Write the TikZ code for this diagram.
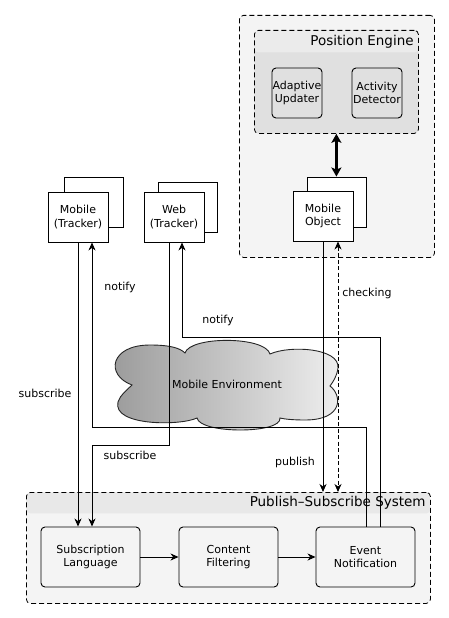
\documentclass[tikz,border=0pt]{standalone}
\usepackage{fontspec}
\setmainfont{DejaVu Sans}
\usetikzlibrary{arrows.meta}
\definecolor{bodyfill}{HTML}{F4F4F4}
\definecolor{hdrfill}{HTML}{E8E8E8}
\definecolor{pebody}{HTML}{E0E0E0}
\definecolor{pehdr}{HTML}{EBEBEB}
\definecolor{cloudL}{HTML}{999999}
\definecolor{cloudR}{HTML}{F0F0F0}
\begin{document}
\begin{tikzpicture}[x=1pt,y=-1pt,
  txt/.style={font=\fontsize{11}{13.5}\selectfont, text=black, inner sep=0pt},
  ttl/.style={font=\fontsize{13.5}{16}\selectfont, text=black, inner sep=0pt},
  container/.style={draw, dash pattern=on 5pt off 3pt, line width=0.8pt, rounded corners=4pt, inner sep=0pt},
  trk/.style={draw, fill=white, line width=0.9pt, minimum width=60pt, minimum height=50pt, inner sep=0pt, align=center, txt},
  trkback/.style={draw, fill=white, line width=0.9pt, minimum width=59pt, minimum height=50pt, inner sep=0pt},
  psb/.style={draw, fill=bodyfill, line width=0.9pt, rounded corners=4pt, minimum width=99pt, minimum height=60pt, inner sep=0pt, align=center, txt},
  peb/.style={draw, fill=pebody, line width=0.9pt, rounded corners=4pt, minimum width=50pt, minimum height=50pt, inner sep=0pt, align=center, txt},
  arr/.style={line width=0.9pt, -{Stealth[length=8pt,width=7pt,inset=2.5pt]}},
  bigarr/.style={line width=3pt, {Stealth[length=9pt,width=10pt,inset=2pt]}-{Stealth[length=9pt,width=10pt,inset=2pt]}}
]
\useasboundingbox (0,0) rectangle (449,618);

% Position engine outer container
\node[container, fill=bodyfill, minimum width=195pt, minimum height=242pt, anchor=north west] (peout) at (239,15) {};
% Position Engine inner container
\node[container, fill=pebody, minimum width=164pt, minimum height=103pt, anchor=north west,
  path picture={\fill[pehdr] (path picture bounding box.north west) rectangle ([yshift=-22pt]path picture bounding box.north east);}] (pein) at (254,30) {};
\node[ttl, anchor=east] (petitle) at ([xshift=-5pt,yshift=-12pt]pein.north east) {Position Engine};
\node[peb] (adapt) at (297,93) {Adaptive\\Updater};
\node[peb] (activ) at (377,93) {Activity\\Detector};

% Mobile object
\node[trkback] (moback) at (336.5,202) {};
\node[trk] (mo) at (323,216) {Mobile\\Object};
\draw[bigarr] (pein.south) -- (pein.south |- moback.north);

% Trackers
\node[trkback] (mtback) at (94,202) {};
\node[trk] (mt) at (78,217) {Mobile\\(Tracker)};
\node[trkback] (wtback) at (188,207) {};
\node[trk] (wt) at (174,217) {Web\\(Tracker)};

% Publish-subscribe container
\node[container, fill=bodyfill, minimum width=404pt, minimum height=111pt, anchor=north west,
  path picture={\fill[hdrfill] (path picture bounding box.north west) rectangle ([yshift=-21pt]path picture bounding box.north east);}] (ps) at (26,492) {};
\node[ttl, anchor=east] (pstitle) at ([xshift=-5pt,yshift=-11pt]ps.north east) {Publish–Subscribe System};
\node[psb] (sl) at (90.5,557) {Subscription\\Language};
\node[psb] (cf) at (228.5,557) {Content\\Filtering};
\node[psb] (en) at (365.5,557) {Event\\Notification};
\draw[arr] (sl) -- (cf);
\draw[arr] (cf) -- (en);

% Cloud
\path[draw=black!85, line width=0.9pt, left color=cloudL, right color=cloudR]
  (132,385) .. controls (105,375) and (110,345) .. (150,345)
  .. controls (170,345) and (180,348) .. (185,353)
  .. controls (190,336) and (265,336) .. (270,354)
  .. controls (290,345) and (340,348) .. (338,368)
  .. controls (337,376) and (333,382) .. (330,386)
  .. controls (342,395) and (344,420) .. (305,420)
  .. controls (292,420) and (284,419) .. (280,418)
  .. controls (282,434) and (200,434) .. (197,418)
  .. controls (180,426) and (112,426) .. (118,402)
  .. controls (120,395) and (127,390) .. (132,385) -- cycle;
\node[txt] (envlbl) at (227,384) {Mobile Environment};

% Coordinates for bends
\coordinate (mnA) at (366,427);
\coordinate (mnB) at (92,427);
\coordinate (wnA) at (380,337);
\coordinate (wnB) at (182,337);
\coordinate (wsA) at (169,445);
\coordinate (wsB) at (92,445);
\coordinate (chk) at (338,0);

% Mobile tracker subscribe
\draw[arr] (mt.south) -- (mt.south |- sl.north);
% Mobile tracker notify
\draw[arr] (en.north -| mnA) -- (mnA) -- (mnB) -- (mt.south -| mnB);
% Web tracker notify
\draw[arr] (en.north -| wnA) -- (wnA) -- (wnB) -- (wt.south -| wnB);
% Web tracker subscribe
\draw[arr] (wt.south -| wsA) -- (wsA) -- (wsB) -- (sl.north -| wsB);
% publish
\draw[arr] (mo.south) -- (mo.south |- ps.north);
% checking
\draw[line width=0.9pt, dash pattern=on 4pt off 2.5pt, {Stealth[length=8pt,width=7pt,inset=2.5pt]}-{Stealth[length=8pt,width=7pt,inset=2.5pt]}] (mo.south -| chk) -- (ps.north -| chk);

% Labels
\node[txt] (lnotify1) at (120,287) {notify};
\node[txt] (lnotify2) at (218,320) {notify};
\node[txt] (lsub1) at (45,393) {subscribe};
\node[txt] (lsub2) at (130,455) {subscribe};
\node[txt] (lpub) at (295,462) {publish};
\node[txt] (lchk) at (367,293) {checking};
\end{tikzpicture}
\end{document}
